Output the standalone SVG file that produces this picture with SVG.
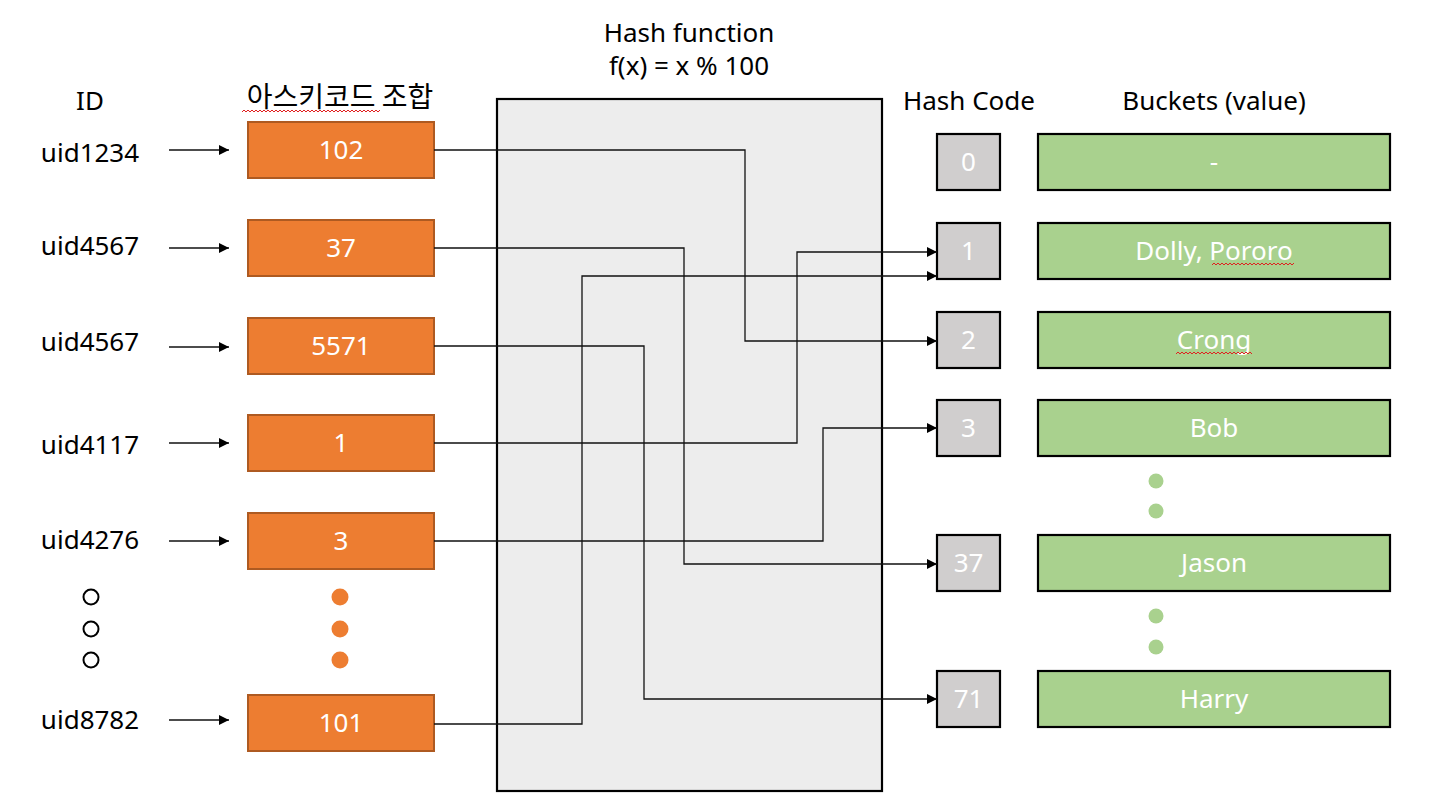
<svg xmlns="http://www.w3.org/2000/svg" width="1433" height="810" viewBox="0 0 1433 810">
<defs>
<style>
text{font-family:"Noto Sans","Noto Sans CJK KR",sans-serif;font-size:26px;}
.lbl{fill:#000;text-anchor:middle;}
.w{fill:#fff;text-anchor:middle;}
.ob{fill:#ED7D31;stroke:#AE5A21;stroke-width:2;}
.hb{fill:#D0CECE;stroke:#000;stroke-width:2.2;}
.gb{fill:#A9D18E;stroke:#000;stroke-width:2.2;}
.ln{fill:none;stroke:#111;stroke-width:1.3;}
.sq{fill:none;stroke:#E02020;stroke-width:1;}
</style>
<marker id="ah" markerUnits="userSpaceOnUse" markerWidth="12" markerHeight="10" refX="10" refY="5" orient="auto">
<path d="M0,0 L10,5 L0,10 Z" fill="#000"/>
</marker>
</defs>
<rect width="1433" height="810" fill="#fff"/>

<g id="hash-function">
<rect x="497" y="99" width="385" height="692" fill="#EDEDED" stroke="#000" stroke-width="2.2"/>
<text class="lbl" x="689" y="42">Hash function</text>
<text class="lbl" x="689" y="75">f(x) = x % 100</text>
</g>

<g id="headers">
<text class="lbl" x="90" y="110">ID</text>
<text class="lbl" x="340" y="107" style="font-family:'Noto Sans CJK KR',sans-serif;font-size:28px">아스키코드 조합</text>
<polyline class="sq" points="242,112 244,110 246,112 248,110 250,112 252,110 254,112 256,110 258,112 260,110 262,112 264,110 266,112 268,110 270,112 272,110 274,112 276,110 278,112 280,110 282,112 284,110 286,112 288,110 290,112 292,110 294,112 296,110 298,112 300,110 302,112 304,110 306,112 308,110 310,112 312,110 314,112 316,110 318,112 320,110 322,112 324,110 326,112 328,110 330,112 332,110 334,112 336,110 338,112 340,110 342,112 344,110 346,112 348,110 350,112 352,110 354,112 356,110 358,112 360,110 362,112 364,110 366,112 368,110 370,112 372,110 374,112 376,110 378,112 380,110"/>
<text class="lbl" x="969" y="110">Hash Code</text>
<text class="lbl" x="1214" y="110">Buckets (value)</text>
</g>

<g id="ids">
<text class="lbl" x="90" y="162">uid1234</text>
<text class="lbl" x="90" y="255">uid4567</text>
<text class="lbl" x="90" y="351">uid4567</text>
<text class="lbl" x="90" y="454">uid4117</text>
<text class="lbl" x="90" y="549">uid4276</text>
<text class="lbl" x="90" y="729">uid8782</text>
<circle cx="91" cy="597" r="7.5" fill="none" stroke="#000" stroke-width="2"/>
<circle cx="91" cy="629" r="7.5" fill="none" stroke="#000" stroke-width="2"/>
<circle cx="91" cy="660" r="7.5" fill="none" stroke="#000" stroke-width="2"/>
</g>

<g id="ascii-102"><rect class="ob" x="248" y="122" width="186" height="56"/><text class="w" x="341" y="159">102</text></g>
<g id="ascii-37"><rect class="ob" x="248" y="220" width="186" height="56"/><text class="w" x="341" y="257">37</text></g>
<g id="ascii-5571"><rect class="ob" x="248" y="318" width="186" height="56"/><text class="w" x="341" y="355">5571</text></g>
<g id="ascii-1"><rect class="ob" x="248" y="415" width="186" height="56"/><text class="w" x="341" y="452">1</text></g>
<g id="ascii-3"><rect class="ob" x="248" y="513" width="186" height="56"/><text class="w" x="341" y="550">3</text></g>
<g id="ascii-dots">
<circle cx="340" cy="597" r="8.5" fill="#ED7D31"/>
<circle cx="340" cy="629" r="8.5" fill="#ED7D31"/>
<circle cx="340" cy="660" r="8.5" fill="#ED7D31"/>
</g>
<g id="ascii-101"><rect class="ob" x="248" y="695" width="186" height="56"/><text class="w" x="341" y="732">101</text></g>

<g id="hash-0"><rect class="hb" x="937" y="134" width="63" height="56"/><text class="w" x="968.5" y="171">0</text></g>
<g id="hash-1"><rect class="hb" x="937" y="223" width="63" height="56"/><text class="w" x="968.5" y="260">1</text></g>
<g id="hash-2"><rect class="hb" x="937" y="312" width="63" height="56"/><text class="w" x="968.5" y="349">2</text></g>
<g id="hash-3"><rect class="hb" x="937" y="400" width="63" height="56"/><text class="w" x="968.5" y="437">3</text></g>
<g id="hash-37"><rect class="hb" x="937" y="535" width="63" height="56"/><text class="w" x="968.5" y="572">37</text></g>
<g id="hash-71"><rect class="hb" x="937" y="671" width="63" height="56"/><text class="w" x="968.5" y="708">71</text></g>

<g id="bucket-0"><rect class="gb" x="1038" y="134" width="352" height="56"/><text class="w" x="1214" y="171">-</text></g>
<g id="bucket-1"><rect class="gb" x="1038" y="223" width="352" height="56"/><text class="w" x="1214" y="260">Dolly, Pororo</text>
<polyline class="sq" points="1212,265 1214,263 1216,265 1218,263 1220,265 1222,263 1224,265 1226,263 1228,265 1230,263 1232,265 1234,263 1236,265 1238,263 1240,265 1242,263 1244,265 1246,263 1248,265 1250,263 1252,265 1254,263 1256,265 1258,263 1260,265 1262,263 1264,265 1266,263 1268,265 1270,263 1272,265 1274,263 1276,265 1278,263 1280,265 1282,263 1284,265 1286,263 1288,265 1290,263 1292,265 1294,263"/></g>
<g id="bucket-2"><rect class="gb" x="1038" y="312" width="352" height="56"/><text class="w" x="1214" y="349">Crong</text>
<polyline class="sq" points="1176,354 1178,352 1180,354 1182,352 1184,354 1186,352 1188,354 1190,352 1192,354 1194,352 1196,354 1198,352 1200,354 1202,352 1204,354 1206,352 1208,354 1210,352 1212,354 1214,352 1216,354 1218,352 1220,354 1222,352 1224,354 1226,352 1228,354 1230,352 1232,354 1234,352 1236,354 1238,352 1240,354 1242,352 1244,354 1246,352 1248,354 1250,352 1252,354"/></g>
<g id="bucket-3"><rect class="gb" x="1038" y="400" width="352" height="56"/><text class="w" x="1214" y="437">Bob</text></g>
<g id="bucket-dots">
<circle cx="1156" cy="481" r="7.5" fill="#A9D18E"/>
<circle cx="1156" cy="511" r="7.5" fill="#A9D18E"/>
<circle cx="1156" cy="616" r="7.5" fill="#A9D18E"/>
<circle cx="1156" cy="647" r="7.5" fill="#A9D18E"/>
</g>
<g id="bucket-37"><rect class="gb" x="1038" y="535" width="352" height="56"/><text class="w" x="1214" y="572">Jason</text></g>
<g id="bucket-71"><rect class="gb" x="1038" y="671" width="352" height="56"/><text class="w" x="1214" y="708">Harry</text></g>

<g id="connectors">
<line class="ln" x1="169" y1="150" x2="229" y2="150" marker-end="url(#ah)"/>
<line class="ln" x1="169" y1="248" x2="229" y2="248" marker-end="url(#ah)"/>
<line class="ln" x1="169" y1="347" x2="229" y2="347" marker-end="url(#ah)"/>
<line class="ln" x1="169" y1="443" x2="229" y2="443" marker-end="url(#ah)"/>
<line class="ln" x1="169" y1="541" x2="229" y2="541" marker-end="url(#ah)"/>
<line class="ln" x1="169" y1="720" x2="229" y2="720" marker-end="url(#ah)"/>
<polyline class="ln" points="434,150 745,150 745,341 937,341" marker-end="url(#ah)"/>
<polyline class="ln" points="434,248 684,248 684,564 937,564" marker-end="url(#ah)"/>
<polyline class="ln" points="434,346 644,346 644,699 937,699" marker-end="url(#ah)"/>
<polyline class="ln" points="434,443 797,443 797,252 937,252" marker-end="url(#ah)"/>
<polyline class="ln" points="434,541 823,541 823,428 937,428" marker-end="url(#ah)"/>
<polyline class="ln" points="434,724 582,724 582,276 937,276" marker-end="url(#ah)"/>
</g>
</svg>
